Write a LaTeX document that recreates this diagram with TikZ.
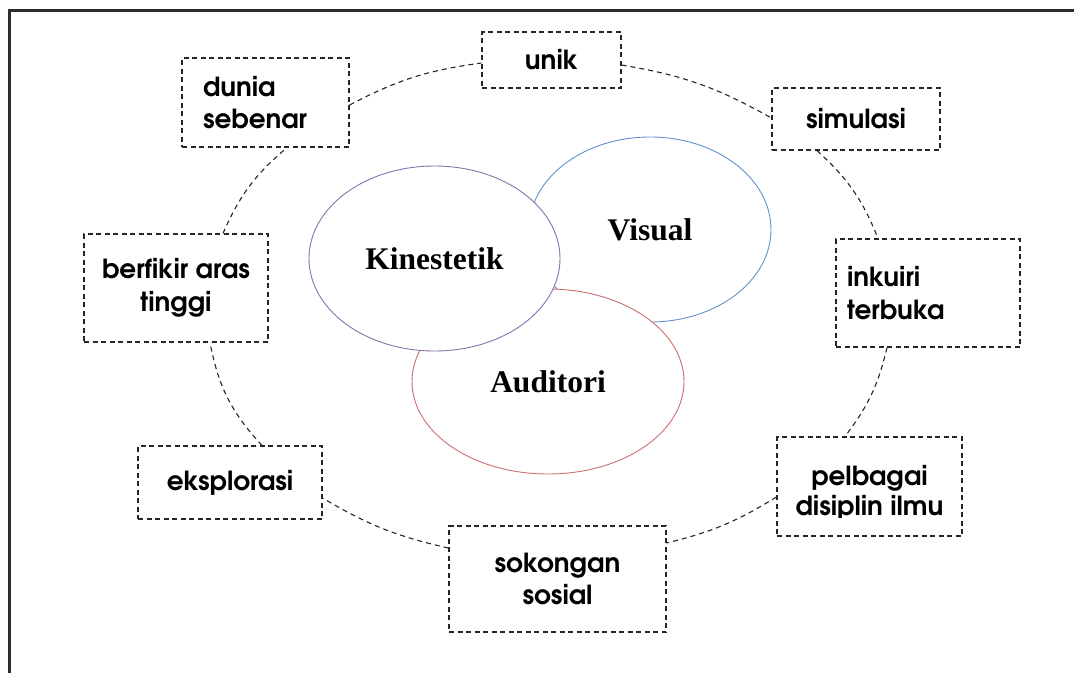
\documentclass[tikz,border=0pt]{standalone}
\usepackage{fontspec}
\setmainfont{Liberation Serif}
\IfFontExistsTF{texgyreadventor-bold.otf}
  {\newfontfamily\gothic{texgyreadventor-bold.otf}}
  {\newfontfamily\gothic{TeX Gyre Adventor}[FakeBold=4]}
\usetikzlibrary{shapes.geometric}
\definecolor{kinc}{RGB}{135,115,170}
\definecolor{visc}{RGB}{100,145,205}
\definecolor{audc}{RGB}{205,110,110}
\definecolor{frame}{RGB}{45,45,45}
\begin{document}
\begin{tikzpicture}[x=1pt,y=-1pt,
  box/.style={draw=black!85, line width=1.2pt, dash pattern=on 5pt off 3.5pt,
    fill=white, font=\gothic\fontsize{26.3}{32.5}\selectfont,
    inner sep=0pt, align=center},
  lbox/.style={box, align=left},
  conn/.style={draw=black!85, line width=1.1pt, dash pattern=on 5pt off 4pt},
  bubble/.style={ellipse, fill=white, line width=0.9pt, inner sep=0pt,
    font=\bfseries\fontsize{31.5}{36}\selectfont}]
\useasboundingbox (0,0) rectangle (1074,673);
\fill[white] (0,0) rectangle (1074,673);
\draw[frame, line width=3pt] (9,673) -- (9,10) -- (1074,10);

% learning-style ellipses
\node[bubble, draw=visc, minimum width=242pt, minimum height=185pt] (visual) at (650,229.5) {Visual};
\node[bubble, draw=audc, minimum width=272pt, minimum height=185pt] (auditori) at (548,381.5) {Auditori};
\node[bubble, draw=kinc, minimum width=251pt, minimum height=185pt] (kinestetik) at (434.5,258.5) {Kinestetik};

% boxes
\node[box, minimum width=139pt, minimum height=56pt] (unik) at (551.5,60) {unik};
\node[lbox, text width=125pt, inner xsep=21pt, minimum height=89pt] (dunia) at (265.5,102.5) {dunia\\sebenar};
\node[box, minimum width=168pt, minimum height=62pt] (simulasi) at (856,119) {simulasi};
\node[box, minimum width=184pt, minimum height=108pt] (berfikir) at (176,288) {berfikir aras\\tinggi};
\node[lbox, text width=162pt, inner xsep=11pt, minimum height=108pt] (inkuiri) at (928,293) {inkuiri\\terbuka};
\node[box, minimum width=185pt, minimum height=99pt] (pelbagai) at (869.5,486.5) {};
\begin{scope}
  \clip (777,437) rectangle (962,517);
  \node[font=\gothic\fontsize{26.3}{30}\selectfont, align=center, inner sep=0pt] (pelbagaitxt) at (869.5,492.5) {pelbagai\\disiplin ilmu};
\end{scope}
\node[box, minimum width=217pt, minimum height=106pt] (sokongan) at (557.5,579) {sokongan\\sosial};
\node[box, minimum width=184pt, minimum height=73pt] (eksplorasi) at (230,482.5) {eksplorasi};

% ring connectors
\draw[conn] ([yshift=-2.5pt]dunia.east) to[bend left=10] ([yshift=-3pt]unik.west);
\draw[conn] ([yshift=-5pt]unik.east) to[bend left=10] ([yshift=1pt]simulasi.west);
\draw[conn] ([xshift=-39pt]simulasi.south) to[bend left=13] ([xshift=-50pt]inkuiri.north);
\draw[conn] ([xshift=-41pt]inkuiri.south) to[bend left=12] ([xshift=-24.5pt]pelbagai.north);
\draw[conn] ([yshift=-10.5pt]pelbagai.west) to[bend left=9] ([yshift=36pt]sokongan.east);
\draw[conn] ([yshift=31pt]sokongan.west) to[bend left=9] ([yshift=-15.5pt]eksplorasi.east);
\draw[conn] ([xshift=32pt]eksplorasi.north) to[bend left=16] ([xshift=34pt]berfikir.south);
\draw[conn] ([xshift=47pt]berfikir.north) to[bend left=13] ([xshift=21.5pt]dunia.south);
\end{tikzpicture}
\end{document}
